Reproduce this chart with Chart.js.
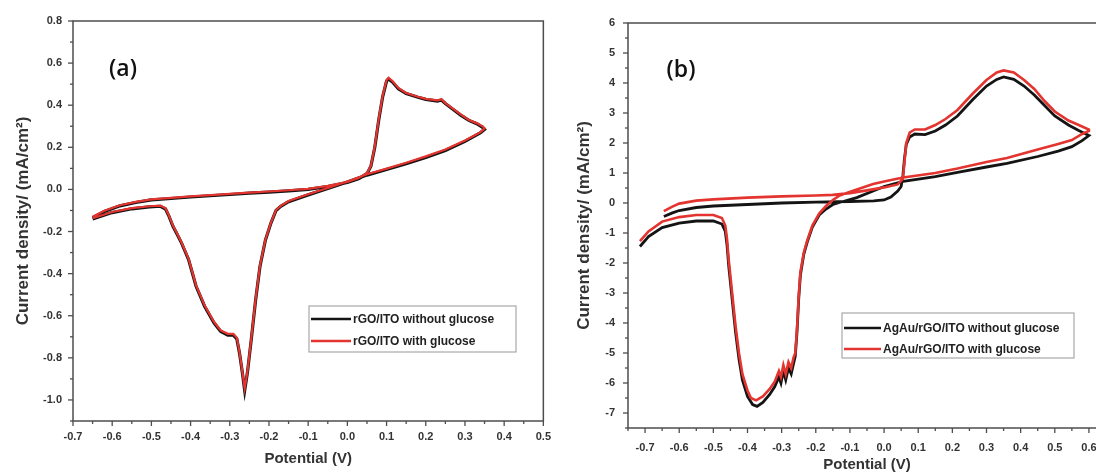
<!DOCTYPE html>
<html>
<head>
<meta charset="utf-8">
<script src="https://cdn.jsdelivr.net/npm/chart.js@4.4.1/dist/chart.umd.min.js"></script>
<style>
  html, body { margin: 0; padding: 0; background: #fff; overflow: hidden; width: 1096px; height: 474px; }
  .panel { position: absolute; top: 0; height: 474px; }
  #wrapA { left: 0; width: 560px; }
  #wrapB { left: 560px; width: 560px; }
</style>
</head>
<body>
<div class="panel" id="wrapA"><canvas id="chartA" width="560" height="474"></canvas></div>
<div class="panel" id="wrapB"><canvas id="chartB" width="560" height="474"></canvas></div>
<script>
// ---- panel (a): rGO/ITO, one closed CV loop (potential V, current mA/cm2)
const aPotential = [-0.65, -0.62, -0.58, -0.54, -0.50, -0.45, -0.40, -0.35, -0.30, -0.25, -0.20, -0.15, -0.10, -0.05,
  0.00, 0.03, 0.05, 0.06, 0.07, 0.08, 0.09, 0.10, 0.105, 0.115, 0.13, 0.15, 0.18, 0.20, 0.23, 0.24, 0.25, 0.27,
  0.29, 0.31, 0.33, 0.345, 0.35, 0.34, 0.30, 0.25, 0.20, 0.15, 0.10, 0.05, 0.00, -0.05, -0.10, -0.15, -0.17,
  -0.182, -0.195, -0.209, -0.223, -0.234, -0.245, -0.255, -0.262, -0.268, -0.275, -0.282, -0.291, -0.305,
  -0.323, -0.340, -0.364, -0.386, -0.405, -0.423, -0.436, -0.445, -0.455, -0.464, -0.477, -0.505, -0.55, -0.60, -0.65];
const aWithout = [-0.135, -0.105, -0.078, -0.062, -0.050, -0.043, -0.036, -0.030, -0.024, -0.018, -0.013, -0.007, 0.000, 0.014,
  0.033, 0.052, 0.075, 0.110, 0.200, 0.330, 0.440, 0.515, 0.525, 0.510, 0.478, 0.455, 0.438, 0.428, 0.420, 0.425, 0.408, 0.380,
  0.352, 0.328, 0.312, 0.295, 0.285, 0.270, 0.228, 0.185, 0.152, 0.122, 0.095, 0.068, 0.035, 0.004, -0.026, -0.058, -0.080,
  -0.100, -0.160, -0.240, -0.366, -0.524, -0.710, -0.870, -0.955, -0.870, -0.780, -0.710, -0.692, -0.692,
  -0.675, -0.635, -0.556, -0.460, -0.334, -0.255, -0.207, -0.175, -0.128, -0.093, -0.080, -0.083, -0.092, -0.110, -0.140];
const aWith = [-0.130, -0.101, -0.075, -0.059, -0.047, -0.040, -0.033, -0.027, -0.021, -0.015, -0.010, -0.004, 0.003, 0.017,
  0.036, 0.055, 0.078, 0.112, 0.205, 0.335, 0.445, 0.520, 0.530, 0.515, 0.482, 0.458, 0.440, 0.430, 0.423, 0.428, 0.410, 0.383,
  0.355, 0.330, 0.315, 0.300, 0.290, 0.272, 0.232, 0.190, 0.157, 0.127, 0.099, 0.072, 0.038, 0.007, -0.023, -0.055, -0.078,
  -0.098, -0.158, -0.238, -0.362, -0.520, -0.705, -0.865, -0.945, -0.865, -0.775, -0.705, -0.686, -0.686,
  -0.670, -0.630, -0.552, -0.456, -0.330, -0.252, -0.204, -0.172, -0.125, -0.090, -0.077, -0.080, -0.089, -0.107, -0.137];

// ---- panel (b): AgAu/rGO/ITO
const bPotWithout = [-0.645, -0.62, -0.60, -0.55, -0.50, -0.40, -0.30, -0.20, -0.10, -0.03, 0.00, 0.02, 0.04, 0.05,
  0.055, 0.06, 0.065, 0.075, 0.09, 0.12, 0.15, 0.18, 0.215, 0.26, 0.30, 0.33, 0.35, 0.38, 0.41, 0.44, 0.47, 0.50,
  0.54, 0.57, 0.60, 0.58, 0.55, 0.51, 0.45, 0.36, 0.30, 0.215, 0.15, 0.056, 0.00, -0.032, -0.08, -0.12, -0.15,
  -0.17, -0.19, -0.21, -0.225, -0.235, -0.245, -0.25, -0.255, -0.26, -0.265, -0.272, -0.28, -0.288, -0.295,
  -0.302, -0.308, -0.32, -0.335, -0.355, -0.372, -0.385, -0.40, -0.415, -0.425, -0.435, -0.445, -0.455, -0.46,
  -0.465, -0.475, -0.50, -0.55, -0.60, -0.65, -0.69, -0.715];
const bCurWithout = [-0.45, -0.33, -0.25, -0.15, -0.10, -0.05, 0.00, 0.03, 0.05, 0.07, 0.10, 0.20, 0.40, 0.55,
  0.90, 1.50, 1.95, 2.20, 2.30, 2.28, 2.40, 2.60, 2.90, 3.45, 3.90, 4.12, 4.20, 4.12, 3.90, 3.60, 3.25, 2.90,
  2.60, 2.42, 2.25, 2.08, 1.88, 1.73, 1.55, 1.32, 1.20, 1.02, 0.88, 0.72, 0.55, 0.40, 0.18, 0.05, -0.05,
  -0.20, -0.40, -0.80, -1.30, -1.70, -2.40, -3.20, -4.30, -5.10, -5.35, -5.70, -5.50, -5.90, -5.60,
  -6.00, -5.80, -6.12, -6.38, -6.65, -6.78, -6.72, -6.45, -5.90, -5.20, -4.30, -3.20, -2.10, -1.40,
  -0.95, -0.70, -0.60, -0.60, -0.67, -0.82, -1.12, -1.45];
const bPotWith = [-0.645, -0.62, -0.60, -0.55, -0.50, -0.40, -0.30, -0.20, -0.15, -0.10, -0.05, 0.00, 0.04,
  0.055, 0.06, 0.065, 0.075, 0.09, 0.12, 0.15, 0.18, 0.215, 0.26, 0.30, 0.33, 0.35, 0.38, 0.41, 0.44, 0.47, 0.50,
  0.54, 0.57, 0.60, 0.60, 0.58, 0.55, 0.51, 0.45, 0.36, 0.30, 0.215, 0.15, 0.056, 0.00, -0.032, -0.08, -0.13, -0.15,
  -0.17, -0.19, -0.21, -0.225, -0.235, -0.245, -0.25, -0.255, -0.26, -0.265, -0.272, -0.28, -0.288, -0.295,
  -0.302, -0.308, -0.32, -0.335, -0.355, -0.375, -0.39, -0.40, -0.415, -0.425, -0.435, -0.445, -0.455, -0.46,
  -0.465, -0.475, -0.50, -0.55, -0.60, -0.65, -0.69, -0.715];
const bCurWith = [-0.27, -0.12, -0.02, 0.08, 0.12, 0.18, 0.22, 0.25, 0.27, 0.33, 0.42, 0.52, 0.62,
  0.80, 1.40, 2.00, 2.35, 2.45, 2.45, 2.60, 2.80, 3.10, 3.65, 4.10, 4.35, 4.42, 4.35, 4.10, 3.80, 3.40, 3.05,
  2.75, 2.60, 2.45, 2.40, 2.30, 2.10, 1.97, 1.78, 1.50, 1.37, 1.15, 1.00, 0.85, 0.72, 0.63, 0.45, 0.25, 0.10,
  -0.10, -0.35, -0.75, -1.25, -1.65, -2.30, -3.10, -4.20, -5.00, -5.15, -5.50, -5.30, -5.70, -5.40,
  -5.80, -5.60, -5.95, -6.20, -6.45, -6.58, -6.50, -6.25, -5.70, -5.00, -4.10, -3.00, -1.90, -1.20,
  -0.75, -0.50, -0.40, -0.40, -0.47, -0.62, -0.95, -1.27];

const FONT = "'Liberation Sans', Arial, sans-serif";
const TICK_COLOR = '#333';

function toPoints(xs, ys) {
  return xs.map((x, i) => ({ x: x, y: ys[i] }));
}

// label only every 0.1 (ticks every 0.05)
function tenthLabel(v) {
  const k = Math.round(v * 20);
  return k % 2 === 0 ? (k / 20).toFixed(1) : '';
}
function fifthLabel(v) {
  const k = Math.round(v * 10);
  return k % 2 === 0 ? (k / 10).toFixed(1) : '';
}
function intLabel(v) {
  const k = Math.round(v * 2);
  return k % 2 === 0 ? String(k / 2) : '';
}

// frame + outward ticks (short for minor), panel tag and legend box
const decor = {
  id: 'decor',
  afterDraw(chart, args, opts) {
    const { ctx, chartArea: a } = chart;
    const sx = chart.scales.x, sy = chart.scales.y;
    ctx.save();
    ctx.strokeStyle = '#4d4d4d';
    ctx.lineWidth = 1.5;
    ctx.strokeRect(a.left, a.top, a.right - a.left, a.bottom - a.top);
    ctx.lineWidth = 1.3;
    sx.ticks.forEach(t => {
      const p = sx.getPixelForValue(t.value);
      const len = t.label ? 5 : 3;
      ctx.beginPath(); ctx.moveTo(p, a.bottom); ctx.lineTo(p, a.bottom + len); ctx.stroke();
    });
    sy.ticks.forEach(t => {
      const p = sy.getPixelForValue(t.value);
      const len = t.label ? 5 : 3;
      ctx.beginPath(); ctx.moveTo(a.left, p); ctx.lineTo(a.left - len, p); ctx.stroke();
    });

    // panel tag
    ctx.fillStyle = '#111';
    ctx.font = "600 23px 'Open Sans', sans-serif";
    ctx.textAlign = 'center';
    ctx.textBaseline = 'middle';
    ctx.fillText(opts.tag, a.left + opts.tagX, a.top + opts.tagY);

    // legend
    const L = opts.legend;
    const bx = a.left + L.x, by = a.top + L.y;
    ctx.strokeStyle = '#a8a8a8';
    ctx.lineWidth = 1.2;
    ctx.strokeRect(bx, by, L.w, L.h);
    ctx.font = "bold 12px " + FONT;
    ctx.textAlign = 'left';
    chart.data.datasets.forEach((ds, i) => {
      const ry = by + L.rows[i];
      ctx.strokeStyle = ds.borderColor;
      ctx.lineWidth = 2.5;
      ctx.beginPath(); ctx.moveTo(bx + 2, ry); ctx.lineTo(bx + L.line, ry); ctx.stroke();
      ctx.fillStyle = '#222';
      ctx.fillText(ds.label, bx + L.line + 2, ry + 1);
    });
    ctx.restore();
  }
};

function makeChart(id, cfg) {
  const ctx = document.getElementById(id).getContext('2d');
  return new Chart(ctx, {
    type: 'scatter',
    data: {
      datasets: [
        {
          label: cfg.names[0],
          data: cfg.black,
          borderColor: '#141414',
          borderWidth: cfg.blackWidth,
          showLine: true,
          pointRadius: 0,
          order: 1
        },
        {
          label: cfg.names[1],
          data: cfg.red,
          borderColor: '#e3342f',
          borderWidth: cfg.redWidth,
          showLine: true,
          pointRadius: 0,
          order: 0
        }
      ]
    },
    options: {
      responsive: false,
      animation: false,
      layout: { padding: cfg.padding },
      plugins: {
        legend: { display: false },
        tooltip: { enabled: false },
        decor: cfg.decor
      },
      scales: {
        x: {
          type: 'linear',
          min: cfg.xMin, max: cfg.xMax,
          afterBuildTicks: s => { s.ticks = cfg.xTicks.map(v => ({ value: v })); },
          afterFit: s => { s.height = cfg.xHeight; },
          grid: { display: false, drawTicks: false },
          border: { display: false },
          ticks: {
            autoSkip: false, maxRotation: 0, padding: cfg.xPad,
            color: TICK_COLOR, font: { family: FONT, size: 11, weight: 'bold' },
            callback: v => tenthLabel(v)
          },
          title: {
            display: true, text: 'Potential (V)', color: '#333',
            font: { family: FONT, size: 15, weight: 'bold' },
            padding: { top: 0, bottom: cfg.xTitlePad }
          }
        },
        y: {
          type: 'linear',
          min: cfg.yMin, max: cfg.yMax,
          afterBuildTicks: s => { s.ticks = cfg.yTicks.map(v => ({ value: v })); },
          afterFit: s => { s.width = cfg.yWidth; },
          grid: { display: false, drawTicks: false },
          border: { display: false },
          ticks: {
            autoSkip: false, padding: cfg.yPad,
            color: TICK_COLOR, font: { family: FONT, size: 11, weight: 'bold' },
            callback: v => cfg.yLabel(v)
          },
          title: {
            display: true, text: 'Current density/ (mA/cm²)', color: '#333',
            font: { family: FONT, size: 17, weight: 'bold' },
            padding: { top: cfg.yTitlePad, bottom: 0 }
          }
        }
      }
    },
    plugins: [decor]
  });
}

// tick positions
const aXTicks = [];
for (let k = -14; k <= 10; k++) aXTicks.push(k / 20);
const aYTicks = [];
for (let k = -11; k <= 8; k++) aYTicks.push(k / 10);
const bXTicks = [];
for (let k = -15; k <= 13; k++) bXTicks.push(k / 20);
const bYTicks = [];
for (let k = -15; k <= 12; k++) bYTicks.push(k / 2);

makeChart('chartA', {
  names: ['rGO/ITO without glucose', 'rGO/ITO with glucose'],
  black: toPoints(aPotential, aWithout),
  red: toPoints(aPotential, aWith),
  blackWidth: 3.2, redWidth: 2.2,
  xMin: -0.7, xMax: 0.5, yMin: -1.1, yMax: 0.8,
  xTicks: aXTicks, yTicks: aYTicks, yLabel: fifthLabel,
  padding: { top: 21, right: 15, left: 0, bottom: 0 },
  xHeight: 53, yWidth: 73, xPad: 9, yPad: 11,
  xTitlePad: 6, yTitlePad: 13,
  decor: {
    tag: '(a)', tagX: 50, tagY: 48,
    legend: { x: 236, y: 285, w: 207, h: 46, rows: [13, 35], line: 42 }
  }
});

makeChart('chartB', {
  names: ['AgAu/rGO/ITO without glucose', 'AgAu/rGO/ITO with glucose'],
  black: toPoints(bPotWithout, bCurWithout),
  red: toPoints(bPotWith, bCurWith),
  blackWidth: 2.8, redWidth: 2.6,
  xMin: -0.75, xMax: 0.65, yMin: -7.5, yMax: 6,
  xTicks: bXTicks, yTicks: bYTicks, yLabel: intLabel,
  padding: { top: 23, right: 14, left: 0, bottom: 0 },
  xHeight: 46, yWidth: 68, xPad: 13, yPad: 13,
  xTitlePad: 0, yTitlePad: 14,
  decor: {
    tag: '(b)', tagX: 53, tagY: 47,
    legend: { x: 214, y: 290, w: 232, h: 45, rows: [15, 36], line: 39 }
  }
});
</script>
</body>
</html>
